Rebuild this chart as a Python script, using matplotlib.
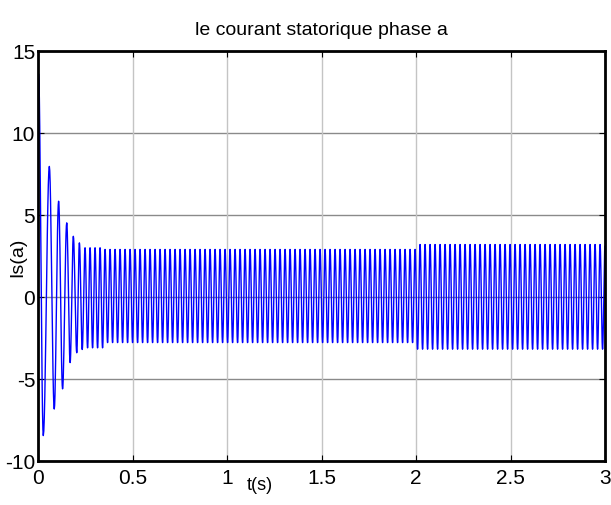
import numpy as np
import matplotlib
matplotlib.use("Agg")
import matplotlib.pyplot as plt

plt.rcParams['font.family'] = ['Liberation Sans', 'DejaVu Sans']

# Start-up transient: times (s) and values (A) of successive current extrema
start_t = [0.0, 0.003, 0.028, 0.060, 0.086, 0.109, 0.130, 0.152, 0.170,
           0.187, 0.205, 0.219, 0.234, 0.249]
start_v = [0.0, 13.6, -8.45, 7.96, -6.83, 5.84, -5.6, 4.52, -4.0,
           3.7, -3.4, 3.3, -3.2, 3.0]

# Steady-state oscillation: frequency and peak levels per load interval
osc_freq = 37.8                     # Hz
seg_start = [0.25, 0.35, 2.0]       # s
seg_pos = [3.0, 2.9, 3.2]           # positive peaks (A)
seg_neg = [-3.1, -2.78, -3.18]      # negative peaks (A)
t_end = 3.0

x_ticks = [0, 0.5, 1, 1.5, 2, 2.5, 3]
x_ticklabels = ['0', '0.5', '1', '1.5', '2', '2.5', '3']
y_ticks = [-10, -5, 0, 5, 10, 15]
y_ticklabels = ['-10', '-5', '0', '5', '10', '15']

# Build the list of extrema for the whole run
ext_t = list(start_t)
ext_v = list(start_v)
half = 0.5 / osc_freq
tk = start_t[-1] + half
sign = -1 if start_v[-1] > 0 else 1
while tk <= t_end + half:
    idx = np.searchsorted(seg_start, tk, side='right') - 1
    idx = max(idx, 0)
    ext_t.append(tk)
    ext_v.append(seg_pos[idx] if sign > 0 else seg_neg[idx])
    sign = -sign
    tk += half

# Smooth half-cosine arcs between consecutive extrema
ts, ys = [], []
for k in range(len(ext_t) - 1):
    a, b = ext_t[k], ext_t[k + 1]
    va, vb = ext_v[k], ext_v[k + 1]
    u = np.linspace(0, 1, 12, endpoint=False)
    ts.append(a + (b - a) * u)
    ys.append(va + (vb - va) * (1 - np.cos(np.pi * u)) / 2)
t = np.concatenate(ts)
i_a = np.concatenate(ys)
keep = t <= t_end
t, i_a = t[keep], i_a[keep]

fig = plt.figure(figsize=(6.11, 5.06), dpi=100)
ax = fig.add_axes([38 / 611, 1 - 462 / 506, (605 - 38) / 611, (462 - 52) / 506])

ax.plot(t, i_a, color='#0000ff', linewidth=1.0)

ax.set_xlim(0, 3)
ax.set_ylim(-10, 15)
ax.set_xticks(x_ticks)
ax.set_xticklabels(x_ticklabels)
ax.set_yticks(y_ticks)
ax.set_yticklabels(y_ticklabels)

for yv in y_ticks:
    ax.axhline(yv, color='#8a8a8a', linewidth=1.0, zorder=0)
for xv in x_ticks:
    ax.axvline(xv, color='#c4c4c4', linewidth=1.0, zorder=0)

for s in ax.spines.values():
    s.set_linewidth(2.0)
    s.set_color('black')

ax.tick_params(direction='in', top=True, right=True, length=4, width=0.8,
               labelsize=15)
ax.tick_params(axis='x', pad=5)
ax.tick_params(axis='y', pad=2)

ax.set_title('le courant statorique phase a', fontsize=14, pad=12)
ax.set_ylabel('Is(a)', fontsize=14)
ax.yaxis.set_label_coords((26 - 38) / 567, 0.5)
ax.set_xlabel('t(s)', fontsize=13)
ax.xaxis.set_label_coords((260 - 38) / 567, (462 - 477) / 410)

fig.savefig('out.png', dpi=100)
